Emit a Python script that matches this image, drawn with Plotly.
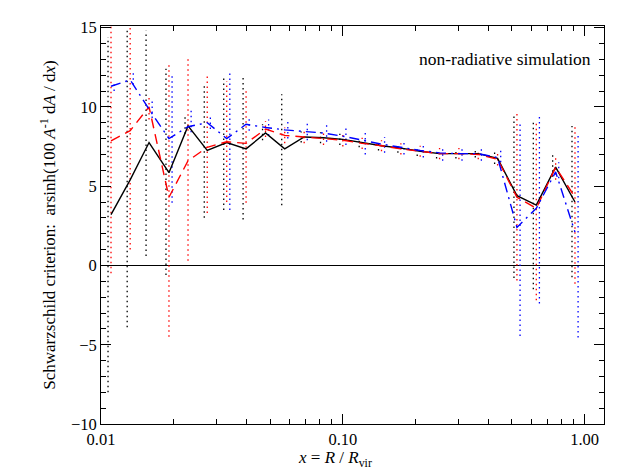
import plotly.graph_objects as go

# ---- data -------------------------------------------------------------
x_vals = [0.0110, 0.0132, 0.0158, 0.0191, 0.0229, 0.0275, 0.0331, 0.0398, 0.0479,
          0.0575, 0.0692, 0.0832, 0.1000, 0.1202, 0.1445, 0.1738, 0.2089, 0.2512,
          0.3020, 0.3631, 0.4365, 0.5248, 0.6310, 0.7586, 0.9120]

black_y = [3.2, 5.4, 7.75, 5.85, 8.8, 7.25, 7.75, 7.35, 8.35, 7.35, 8.1, 8.05, 7.95,
           7.75, 7.55, 7.4, 7.2, 7.05, 7.05, 7.05, 6.75, 4.4, 3.8, 6.2, 4.0]
black_lo = [-8.0, -3.9, 0.6, -0.6, 8.3, 3.0, 3.5, 2.9, 7.9, 3.8, 7.75, 7.7, 7.6,
            7.45, 7.25, 7.1, 6.9, 6.75, 6.75, 6.8, 6.4, -0.8, -1.5, 5.6, -0.75]
black_hi = [14.4, 14.8, 14.8, 12.4, 9.5, 11.4, 12.0, 11.9, 8.9, 10.8, 8.45, 8.4, 8.3,
            8.05, 7.85, 7.7, 7.5, 7.35, 7.35, 7.3, 7.2, 9.5, 9.2, 7.1, 8.8]

red_y = [7.85, 8.5, 10.0, 4.3, 6.6, 7.45, 7.8, 7.7, 8.6, 8.2, 8.1, 8.0, 7.9,
         7.7, 7.55, 7.35, 7.2, 7.05, 7.05, 7.0, 6.7, 4.3, 3.6, 6.2, 4.3]
red_lo = [-0.5, 1.0, 9.2, -4.5, 0.3, 3.3, 4.0, 3.95, 8.1, 7.7, 7.7, 7.6, 7.5,
          7.35, 7.2, 7.0, 6.85, 6.7, 6.7, 6.7, 6.3, -0.95, -2.2, 5.4, -1.15]
red_hi = [15.5, 15.5, 10.7, 12.8, 13.0, 12.1, 11.6, 11.0, 9.1, 8.7, 8.5, 8.4, 8.3,
          8.05, 7.9, 7.7, 7.55, 7.4, 7.4, 7.3, 7.1, 9.7, 9.0, 6.95, 8.8]

blue_y = [11.3, 11.7, 9.85, 8.0, 8.75, 9.0, 8.0, 8.9, 8.7, 8.55, 8.45, 8.35, 8.15,
          7.9, 7.65, 7.45, 7.25, 7.1, 7.05, 7.05, 6.8, 2.4, 3.6, 5.9, 2.1]
blue_lo = [11.0, 11.4, 9.3, 3.95, 8.4, 8.6, 3.5, 8.5, 8.2, 8.0, 7.9, 7.8, 7.6,
           7.0, 7.1, 7.0, 6.8, 6.6, 6.6, 6.6, 6.5, -4.45, -2.4, 5.5, -4.55]
blue_hi = [11.6, 12.2, 10.5, 12.0, 9.9, 9.4, 12.2, 9.4, 9.2, 9.1, 9.0, 8.9, 8.7,
           8.35, 8.1, 7.9, 7.7, 7.5, 7.5, 7.5, 7.35, 9.1, 9.5, 6.5, 8.35]

x_tickvals = [0.01, 0.1, 1.0]
x_ticktext = ["0.01", "0.10", "1.00"]
x_minor = [0.02, 0.03, 0.04, 0.05, 0.06, 0.07, 0.08, 0.09,
           0.2, 0.3, 0.4, 0.5, 0.6, 0.7, 0.8, 0.9]
y_tickvals = [-10, -5, 0, 5, 10, 15]

FONT = "Liberation Serif, Times New Roman, DejaVu Serif, serif"

fig = go.Figure()


def bars(xs, lo, hi, factor):
    bx, by = [], []
    for xv, l, h in zip(xs, lo, hi):
        bx += [xv * factor, xv * factor, None]
        by += [l, h, None]
    return bx, by


series = [
    (black_y, black_lo, black_hi, "black", "solid", 0.972),
    (red_y, red_lo, red_hi, "#ff0000", "10px,6px", 1.0),
    (blue_y, blue_lo, blue_hi, "#0000ff", "10px,5px,2px,5px", 1.03),
]

for yv, lo, hi, col, dash, fac in series:
    bx, by = bars(x_vals, lo, hi, fac)
    fig.add_trace(go.Scatter(x=bx, y=by, mode="lines",
                             line=dict(color=col, width=1.3, dash="1.5px,3.5px"),
                             showlegend=False, hoverinfo="skip"))

for yv, lo, hi, col, dash, fac in series:
    fig.add_trace(go.Scatter(x=x_vals, y=yv, mode="lines",
                             line=dict(color=col, width=1.4, dash=dash),
                             showlegend=False))

axis_common = dict(
    showline=True, linecolor="black", linewidth=1, mirror="allticks",
    ticks="inside", ticklen=10, tickcolor="black", tickwidth=1,
    showgrid=False, tickfont=dict(family=FONT, size=16.5, color="black"),
)

fig.update_xaxes(
    type="log", range=[-2, 0.08],
    tickmode="array", tickvals=x_tickvals, ticktext=x_ticktext,
    minor=dict(tickmode="array", tickvals=x_minor, ticks="inside", ticklen=5,
               tickcolor="black", showgrid=False),
    zeroline=False,
    **axis_common,
)
fig.update_yaxes(
    range=[-10, 15.1],
    tickmode="array", tickvals=y_tickvals,
    minor=dict(dtick=1, ticks="inside", ticklen=5, tickcolor="black", showgrid=False),
    zeroline=True, zerolinecolor="black", zerolinewidth=1,
    title=dict(text="Schwarzschild criterion:  arsinh(100 <i>A</i><sup>-1</sup> d<i>A</i> / d<i>x</i>)",
               font=dict(family=FONT, size=17, color="black"), standoff=10),
    **axis_common,
)

fig.add_annotation(text="<i>x</i> = <i>R</i> / <i>R</i><sub>vir</sub>",
                   xref="paper", yref="paper", x=0.465, y=-0.089,
                   xanchor="center", yanchor="middle", showarrow=False,
                   font=dict(family=FONT, size=17, color="black"))
fig.add_annotation(text="non-radiative simulation",
                   xref="paper", yref="paper", x=0.978, y=0.916,
                   xanchor="right", yanchor="middle", showarrow=False,
                   font=dict(family=FONT, size=17.5, color="black"))

fig.update_layout(
    width=621, height=464,
    margin=dict(l=93, r=25, t=10, b=48),
    paper_bgcolor="white", plot_bgcolor="white",
    showlegend=False,
    font=dict(family=FONT, size=16, color="black"),
)

fig.write_html("out.html")
